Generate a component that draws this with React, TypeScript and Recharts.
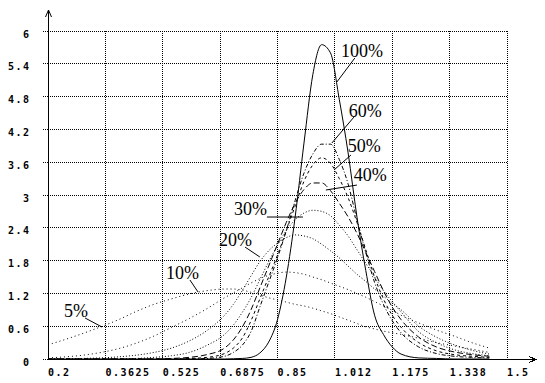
import {
  CartesianGrid,
  Line,
  LineChart,
  ReferenceDot,
  ReferenceLine,
  XAxis,
  YAxis,
} from "recharts";

const xs = [
  0.2, 0.25, 0.3, 0.35, 0.4, 0.45, 0.5, 0.55, 0.6, 0.65, 0.7, 0.725, 0.75,
  0.775, 0.8, 0.825, 0.85, 0.875, 0.9, 0.925, 0.95, 0.975, 1.0, 1.025, 1.05,
  1.075, 1.1, 1.125, 1.15, 1.175, 1.2, 1.25, 1.3, 1.35, 1.4, 1.45,
];

const s5 = [
  0.26, 0.36, 0.47, 0.59, 0.72, 0.87, 1.0, 1.1, 1.19, 1.25, 1.28, 1.28, 1.26,
  1.22, 1.17, 1.12, 1.08, 1.04, 1.0, 0.97, 0.93, 0.88, 0.83, 0.77, 0.71, 0.65,
  0.59, 0.55, 0.51, 0.48, 0.45, 0.38, 0.3, 0.24, 0.18, 0.12,
];
const s10 = [
  0.02, 0.04, 0.07, 0.12, 0.19, 0.29, 0.42, 0.58, 0.74, 0.92, 1.12, 1.21, 1.3,
  1.39, 1.47, 1.53, 1.57, 1.59, 1.58, 1.55, 1.5, 1.45, 1.39, 1.33, 1.27, 1.2,
  1.13, 1.05, 0.97, 0.89, 0.8, 0.66, 0.53, 0.42, 0.3, 0.2,
];
const s20 = [
  0, 0, 0.01, 0.02, 0.04, 0.07, 0.12, 0.2, 0.33, 0.52, 0.8, 1.0, 1.25, 1.52,
  1.78, 1.98, 2.12, 2.22, 2.27, 2.25, 2.2, 2.1, 1.98, 1.85, 1.7, 1.55, 1.42,
  1.28, 1.15, 1.02, 0.9, 0.6, 0.4, 0.26, 0.16, 0.09,
];
const s30 = [
  0, 0, 0, 0, 0, 0.01, 0.03, 0.06, 0.12, 0.25, 0.45, 0.62, 0.85, 1.12, 1.45,
  1.78, 2.08, 2.35, 2.55, 2.67, 2.72, 2.7, 2.62, 2.45, 2.25, 2.0, 1.75, 1.5,
  1.25, 1.05, 0.86, 0.5, 0.3, 0.17, 0.1, 0.06,
];
const s40 = [
  0, 0, 0, 0, 0, 0, 0, 0.01, 0.03, 0.08, 0.2, 0.35, 0.58, 0.9, 1.3, 1.7, 2.1,
  2.5, 2.85, 3.1, 3.22, 3.22, 3.08, 2.85, 2.6, 2.3, 1.95, 1.6, 1.25, 0.95,
  0.72, 0.4, 0.22, 0.13, 0.08, 0.05,
];
const s50 = [
  0, 0, 0, 0, 0, 0, 0, 0, 0.01, 0.03, 0.1, 0.2, 0.38, 0.7, 1.1, 1.5, 1.9,
  2.35, 2.8, 3.25, 3.55, 3.68, 3.58, 3.3, 2.95, 2.5, 2.0, 1.5, 1.1, 0.8, 0.58,
  0.3, 0.15, 0.08, 0.05, 0.03,
];
const s60 = [
  0, 0, 0, 0, 0, 0, 0, 0, 0, 0.01, 0.05, 0.12, 0.25, 0.5, 0.95, 1.4, 1.85,
  2.35, 2.9, 3.4, 3.75, 3.93, 3.93, 3.65, 3.2, 2.55, 1.95, 1.4, 1.0, 0.7, 0.48,
  0.22, 0.1, 0.05, 0.03, 0.02,
];
const s100 = [
  0, 0, 0, 0, 0, 0, 0, 0, 0, 0, 0, 0.005, 0.01, 0.03, 0.11, 0.31, 0.72, 1.5,
  2.6, 3.95, 5.2, 5.75, 5.6, 4.75, 3.77, 2.6, 1.62, 0.8, 0.45, 0.22, 0.09,
  0.02, 0.01, 0, 0, 0,
];

const xTicks = [0.2, 0.3625, 0.525, 0.6875, 0.85, 1.0125, 1.175, 1.3375, 1.5];
const xTickLabels = ["0.2", "0.3625", "0.525", "0.6875", "0.85", "1.012", "1.175", "1.338", "1.5"];
const yTicks = [0, 0.6, 1.2, 1.8, 2.4, 3, 3.6, 4.2, 4.8, 5.4, 6];
const yTickLabels = ["0", "0.6", "1.2", "1.8", "2.4", "3", "3.6", "4.2", "4.8", "5.4", "6"];

// series labels: text anchor and leader line, in data units
const labelNames = ["5%", "10%", "20%", "30%", "40%", "50%", "60%", "100%"];
const labelAt = [
  [0.245, 0.77], [0.534, 1.46], [0.684, 2.07], [0.727, 2.63],
  [1.066, 3.26], [1.049, 3.79], [1.052, 4.43], [1.03, 5.52],
];
const leaders = [
  [[0.305, 0.75], [0.353, 0.585]],
  [[0.602, 1.445], [0.625, 1.225]],
  [[0.758, 2.048], [0.8, 1.866]],
  [[0.82, 2.597], [0.922, 2.597]],
  [[1.075, 3.182], [0.987, 3.091]],
  [[1.058, 3.731], [1.01, 3.457]],
  [[1.069, 4.444], [1.004, 3.951]],
  [[1.069, 5.505], [1.018, 5.066]],
];

const data = xs.map((x, i) => ({
  x,
  s5: s5[i],
  s10: s10[i],
  s20: s20[i],
  s30: s30[i],
  s40: s40[i],
  s50: s50[i],
  s60: s60[i],
  s100: s100[i],
}));

const lines = [
  { key: "s5", dash: "1 3" },
  { key: "s10", dash: "1 3" },
  { key: "s20", dash: "1 2" },
  { key: "s30", dash: "1 2" },
  { key: "s40", dash: "6 3" },
  { key: "s50", dash: "3 3" },
  { key: "s60", dash: "4 2 1 2" },
  { key: "s100", dash: undefined },
];

const tickFont = {
  fontFamily: "'DejaVu Sans Mono', 'Liberation Mono', monospace",
  fontSize: 10,
  fontWeight: 700,
  letterSpacing: 1.5,
};

function XTick(props: any) {
  const { x, y, index } = props;
  return (
    <text x={x} y={y + 17} fill="#000" textAnchor="start" style={tickFont}>
      {xTickLabels[index]}
    </text>
  );
}

function YTick(props: any) {
  const { y, index } = props;
  return (
    <text x={30.5} y={y + 6.5} fill="#000" textAnchor="end" style={tickFont}>
      {yTickLabels[index]}
    </text>
  );
}

function XArrow(props: any) {
  const { x, y, width } = props.viewBox;
  const sx = x + width;
  const ex = sx + 29;
  const yy = y + 0.5;
  return (
    <g shapeRendering="crispEdges">
      <line x1={sx} y1={yy} x2={ex} y2={yy} stroke="#000" />
      <polyline points={`${ex - 7},${yy - 3} ${ex},${yy} ${ex - 7},${yy + 3}`} fill="none" stroke="#000" />
    </g>
  );
}

function YArrow(props: any) {
  const { x, y, width } = props.viewBox;
  const xx = x + width + 0.5;
  const top = y - 21;
  return (
    <g>
      <line x1={xx} y1={y} x2={xx} y2={top} stroke="#000" shapeRendering="crispEdges" />
      <polyline points={`${xx - 3},${top + 7} ${xx},${top} ${xx + 3},${top + 7}`} fill="none" stroke="#000" />
    </g>
  );
}

export default function App() {
  return (
    <div style={{ position: "absolute", left: 0, top: 0, background: "#fff" }}>
      <LineChart
        width={545}
        height={383}
        data={data}
        margin={{ top: 31, right: 38, bottom: 0, left: 0 }}
      >
        <CartesianGrid stroke="#000" strokeDasharray="1 1" shapeRendering="crispEdges" />
        <XAxis
          dataKey="x"
          type="number"
          domain={[0.2, 1.5]}
          ticks={xTicks}
          interval={0}
          height={24}
          tickLine={false}
          tickSize={0}
          tickMargin={0}
          tick={<XTick />}
          axisLine={{ stroke: "#000", shapeRendering: "crispEdges" }}
          label={<XArrow />}
        />
        <YAxis
          type="number"
          domain={[0, 6]}
          ticks={yTicks}
          interval={0}
          width={48}
          tickSize={5}
          tickMargin={12}
          tickLine={{ stroke: "#000", strokeDasharray: "1 1", shapeRendering: "crispEdges" }}
          tick={<YTick />}
          axisLine={{ stroke: "#000", shapeRendering: "crispEdges" }}
          label={<YArrow />}
        />
        {lines.map((l) => (
          <Line
            key={l.key}
            dataKey={l.key}
            type="monotone"
            stroke="#000"
            strokeWidth={1}
            strokeDasharray={l.dash}
            dot={false}
            activeDot={false}
            isAnimationActive={false}
          />
        ))}
        {leaders.map((seg, i) => (
          <ReferenceLine
            key={"lead" + i}
            segment={[
              { x: seg[0][0], y: seg[0][1] },
              { x: seg[1][0], y: seg[1][1] },
            ]}
            stroke="#000"
            strokeWidth={1}
          />
        ))}
        {labelAt.map((p, i) => (
          <ReferenceDot
            key={"lab" + i}
            x={p[0]}
            y={p[1]}
            r={0}
            shape={(s: any) => (
              <text
                x={s.cx}
                y={s.cy}
                fill="#000"
                style={{ fontFamily: "'Liberation Serif', serif", fontSize: 18 }}
              >
                {labelNames[i]}
              </text>
            )}
          />
        ))}
      </LineChart>
    </div>
  );
}
